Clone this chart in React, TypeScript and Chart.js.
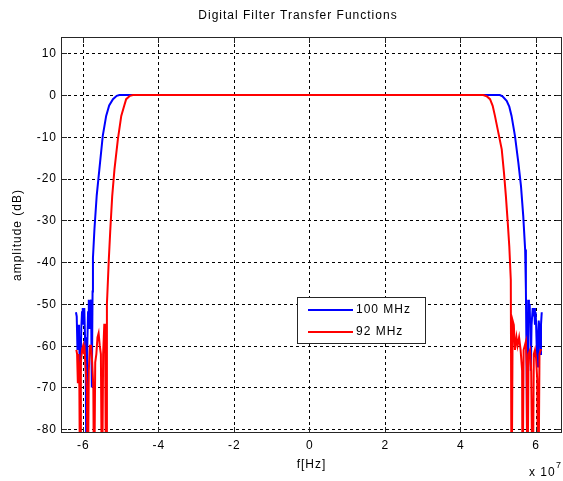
import { useEffect, useRef } from 'react';
import { Chart, registerables } from 'chart.js';

Chart.register(...registerables);

const TITLE = 'Digital Filter Transfer Functions';
const X_LABEL = 'f[Hz]';
const Y_LABEL = 'amplitude (dB)';
const X_EXP = 'x 10';
const X_EXP_POW = '7';
const SERIES_LABELS = ['100 MHz', '92 MHz'];
const SERIES_COLORS = ['#0000ff', '#ff0000'];

const X_TICKS = [-6, -4, -2, 0, 2, 4, 6];
const Y_TICKS = [10, 0, -10, -20, -30, -40, -50, -60, -70, -80];

// frequency in units of 1e7 Hz, amplitude in dB
const FREQ_100 = [
  -6.18, -6.16, -6.14, -6.12, -6.1, -6.08, -6.06, -6.04, -6.02, -6.0, -5.98, -5.96, -5.94, -5.92, -5.9,
  -5.88, -5.86, -5.84, -5.82, -5.8, -5.78, -5.76, -5.74, -5.73, -5.69, -5.63, -5.56, -5.47, -5.38, -5.3,
  -5.2, -5.1, -5.03, 5.05, 5.12, 5.23, 5.3, 5.36, 5.45, 5.54, 5.61, 5.67, 5.72, 5.74, 5.76, 5.78, 5.8,
  5.82, 5.84, 5.86, 5.87, 5.89, 5.92, 5.94, 5.96, 5.98, 6.0, 6.02, 6.04, 6.06, 6.08, 6.1, 6.12, 6.14, 6.16,
];
const AMP_100 = [
  -52, -53, -61, -55, -57, -64, -66, -56, -52, -51, -55, -51, -58, -66, -100,
  -60, -52, -49, -56, -50, -49, -70, -47, -39, -32, -24, -17.8, -9.8, -5, -2.5,
  -1, -0.2, 0, 0, -0.3, -1.4, -2.8, -5, -9.8, -16.2, -21.8, -29, -37, -46.6, -66, -100, -49,
  -52, -50, -58, -66, -55, -51, -53, -51, -55, -52, -58, -65, -58, -54, -56, -62, -55, -52,
];

const FREQ_92 = [
  -6.17, -6.15, -6.13, -6.11, -6.09, -6.07, -6.05, -6.02, -5.99, -5.97, -5.95, -5.92, -5.89, -5.87, -5.84,
  -5.81, -5.78, -5.75, -5.72, -5.7, -5.67, -5.64, -5.61, -5.58, -5.55, -5.52, -5.49, -5.46, -5.43, -5.41,
  -5.38, -5.36, -5.35, -5.31, -5.27, -5.22, -5.16, -5.07, -4.98, -4.9, -4.85, -4.75, -4.67,
  4.61, 4.7, 4.79, 4.86, 4.92, 5.01, 5.1, 5.16, 5.21, 5.26, 5.3, 5.34, 5.36, 5.39, 5.42, 5.45, 5.49,
  5.52, 5.56, 5.6, 5.64, 5.65, 5.68, 5.71, 5.74, 5.76, 5.78, 5.81, 5.85, 5.88, 5.92, 5.95, 5.98, 6.01,
  6.04, 6.07, 6.1, 6.13, 6.16,
];
const AMP_92 = [
  -61, -62, -69, -62, -70, -100, -64, -61, -60, -62, -61, -66, -71, -100, -66,
  -60, -60, -64, -70, -100, -64, -62, -58, -57, -60, -62, -100, -62, -55, -55,
  -100, -50, -48, -39.4, -32.2, -24.2, -17.8, -10.6, -5, -2.5, -1, -0.2, 0,
  0, -0.3, -1, -2.6, -5, -9, -13, -18.7, -24.2, -30.6, -36.2, -44.2, -100, -54, -55, -61, -58,
  -60, -58, -61, -66, -100, -61, -60, -59, -65, -100, -62, -61, -66, -100, -62, -61, -63,
  -68, -100, -62, -61, -61,
];

const X_MIN = -6.55;
const X_MAX = 6.67;
const Y_MIN = -80.65;
const Y_MAX = 13.64;

const FONT = '12px "Liberation Sans", Arial, sans-serif';
const INK = '#000000';
const FRAME = '#262626';

function drawText(ctx: CanvasRenderingContext2D, text: string, x: number, y: number, align: CanvasTextAlign, font = FONT) {
  ctx.font = font;
  (ctx as any).letterSpacing = '1px';
  ctx.textAlign = align;
  ctx.textBaseline = 'middle';
  ctx.fillStyle = INK;
  ctx.fillText(text, x, y);
}

const axesPlugin = {
  id: 'matlabAxes',
  beforeDatasetsDraw(chart: any) {
    const { ctx, chartArea: a, scales } = chart;
    const x = scales.x;
    const y = scales.y;
    ctx.save();
    ctx.strokeStyle = INK;
    ctx.lineWidth = 1;
    ctx.setLineDash([3, 3]);
    ctx.beginPath();
    for (const v of X_TICKS) {
      const px = Math.round(x.getPixelForValue(v)) + 0.5;
      ctx.moveTo(px, a.top);
      ctx.lineTo(px, a.bottom);
    }
    for (const v of Y_TICKS) {
      const py = Math.round(y.getPixelForValue(v)) + 0.5;
      ctx.moveTo(a.left, py);
      ctx.lineTo(a.right, py);
    }
    ctx.stroke();
    ctx.restore();
  },
  afterDatasetsDraw(chart: any) {
    const { ctx, chartArea: a, scales } = chart;
    const x = scales.x;
    const y = scales.y;
    ctx.save();
    // frame
    ctx.strokeStyle = FRAME;
    ctx.lineWidth = 1;
    ctx.setLineDash([]);
    ctx.strokeRect(a.left - 0.5, a.top - 0.5, a.right - a.left + 1, a.bottom - a.top + 1);
    // inward ticks
    ctx.beginPath();
    const tl = 5;
    for (const v of X_TICKS) {
      const px = Math.round(x.getPixelForValue(v)) + 0.5;
      ctx.moveTo(px, a.bottom);
      ctx.lineTo(px, a.bottom - tl);
      ctx.moveTo(px, a.top);
      ctx.lineTo(px, a.top + tl);
    }
    for (const v of Y_TICKS) {
      const py = Math.round(y.getPixelForValue(v)) + 0.5;
      ctx.moveTo(a.left, py);
      ctx.lineTo(a.left + tl, py);
      ctx.moveTo(a.right, py);
      ctx.lineTo(a.right - tl, py);
    }
    ctx.stroke();

    // tick labels
    for (const v of X_TICKS) {
      drawText(ctx, String(v), x.getPixelForValue(v) + 0.5, a.bottom + 14, 'center');
    }
    for (const v of Y_TICKS) {
      drawText(ctx, String(v), a.left - 5, y.getPixelForValue(v) + 0.5, 'right');
    }

    // title and axis labels
    drawText(ctx, TITLE, 298, 16, 'center');
    drawText(ctx, X_LABEL, (a.left + a.right) / 2, 465, 'center');
    drawText(ctx, X_EXP, 529, 473, 'left');
    drawText(ctx, X_EXP_POW, 556, 466, 'left', '9px "Liberation Sans", Arial, sans-serif');
    ctx.save();
    ctx.translate(18, (a.top + a.bottom) / 2);
    ctx.rotate(-Math.PI / 2);
    drawText(ctx, Y_LABEL, 0, 0, 'center');
    ctx.restore();

    // legend
    const lx = 297.5, ly = 297.5, lw = 128, lh = 46;
    ctx.fillStyle = '#ffffff';
    ctx.fillRect(lx, ly, lw, lh);
    ctx.strokeStyle = FRAME;
    ctx.lineWidth = 1;
    ctx.strokeRect(lx, ly, lw, lh);
    chart.data.datasets.forEach((ds: any, i: number) => {
      const rowY = 310 + i * 22;
      ctx.strokeStyle = ds.borderColor;
      ctx.lineWidth = 2;
      ctx.beginPath();
      ctx.moveTo(308, rowY);
      ctx.lineTo(353, rowY);
      ctx.stroke();
      drawText(ctx, ds.label, 356, rowY, 'left');
    });
    ctx.restore();
  },
};

export default function App() {
  const ref = useRef<HTMLCanvasElement | null>(null);
  useEffect(() => {
    if (!ref.current) return;
    const series = [
      { freq: FREQ_100, amp: AMP_100 },
      { freq: FREQ_92, amp: AMP_92 },
    ];
    const chart = new Chart(ref.current, {
      type: 'line',
      data: {
        datasets: series.map((s, i) => ({
          label: SERIES_LABELS[i],
          data: s.freq.map((f, k) => ({ x: f, y: s.amp[k] })),
          borderColor: SERIES_COLORS[i],
          backgroundColor: SERIES_COLORS[i],
          borderWidth: 2,
          pointRadius: 0,
          tension: 0,
          fill: false,
          order: i === 0 ? 1 : 0,
        })),
      },
      options: {
        animation: false,
        responsive: false,
        devicePixelRatio: 1,
        layout: { padding: { left: 62, top: 38, right: 2, bottom: 49 } },
        plugins: {
          legend: { display: false },
          tooltip: { enabled: false },
          title: { display: false },
        },
        scales: {
          x: { type: 'linear', min: X_MIN, max: X_MAX, display: false },
          y: { type: 'linear', min: Y_MIN, max: Y_MAX, display: false },
        },
      },
      plugins: [axesPlugin],
    });
    return () => chart.destroy();
  }, []);
  return (
    <div style={{ position: 'fixed', left: 0, top: 0, width: 563, height: 481, background: '#ffffff' }}>
      <canvas ref={ref} width={563} height={481} style={{ display: 'block', width: 563, height: 481 }} />
    </div>
  );
}
